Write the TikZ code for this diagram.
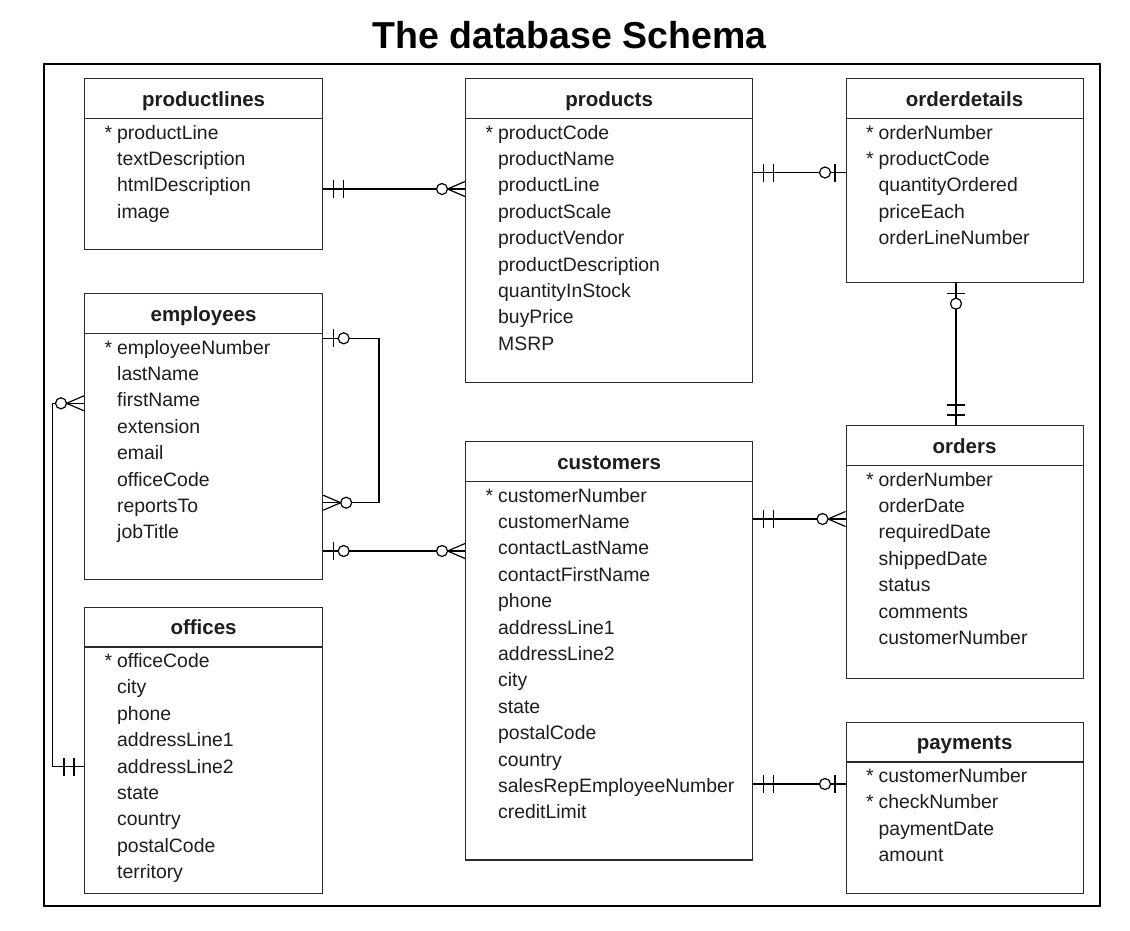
\documentclass[tikz,border=0pt]{standalone}
\usepackage{fontspec}
\setmainfont{Liberation Sans}
\usetikzlibrary{calc}
\definecolor{boxline}{HTML}{2A2A2A}
\definecolor{txt}{HTML}{1C1C26}
\newcommand\keyf{\llap{*\hspace{5pt}}}
\tikzset{
  tbl/.style={draw=boxline, line width=1.2pt, inner sep=0pt, fill=white},
  tbl line/.style={draw=boxline, line width=1.2pt},
  hdr/.style={font=\bfseries\fontsize{20.5}{24}\selectfont, anchor=base, inner sep=0pt, text=txt},
  fld/.style={font=\fontsize{19.4}{24}\selectfont, anchor=base west, inner sep=0pt, text=txt},
  conn/.style={draw=black, line width=1.2pt},
  frame/.style={draw=black, line width=2pt},
  pics/one/.style={code={\draw[conn] (-10,-9) -- (-10,9) (-20,-9) -- (-20,9);}},
  pics/zeroone/.style={code={\draw[conn] (-10.5,-9) -- (-10.5,9); \draw[conn, fill=white] (-20.5,0) circle[radius=5.5];}},
  pics/many/.style={code={\draw[conn] (-17.5,0) -- (0,7.5) (-17.5,0) -- (0,-7.5); \draw[conn, fill=white] (-23,0) circle[radius=5.5];}},
}
\newcommand\ertable[7]{%
  \node[tbl, minimum width=#4pt, minimum height=#5pt, anchor=north west] (#1) at (#2,#3) {};
  \draw[tbl line] ([yshift=-40.5pt]#1.north west) -- ([yshift=-40.5pt]#1.north east);
  \node[hdr] (#1-title) at ([yshift=-28pt]#1.north) {#6};
  \foreach \f [count=\i] in {#7}
    \node[fld] (#1-\i) at ([xshift=33pt,yshift={-61pt-(\i-1)*26.4pt}]#1.north west) {\f};
}
\begin{document}
\begin{tikzpicture}[x=1pt, y=-1pt]
\useasboundingbox (0,0) rectangle (1130,930);
\node[font=\bfseries\fontsize{37.5}{40}\selectfont, anchor=base, inner sep=0pt] (ttl) at (569.5,48) {The database Schema};
\node[frame, inner sep=0pt, minimum width=1056pt, minimum height=842pt, anchor=north west] (frm) at (43,63) {};

\ertable{pl}{84}{78}{238}{171}{productlines}{\keyf productLine, textDescription, htmlDescription, image}
\ertable{pr}{465}{78}{287}{303.5}{products}{\keyf productCode, productName, productLine, productScale, productVendor, productDescription, quantityInStock, buyPrice, MSRP}
\ertable{od}{845.5}{78}{237}{204}{orderdetails}{\keyf orderNumber, \keyf productCode, quantityOrdered, priceEach, orderLineNumber}
\ertable{em}{84}{293}{238}{285.5}{employees}{\keyf employeeNumber, lastName, firstName, extension, email, officeCode, reportsTo, jobTitle}
\ertable{of}{84}{606.5}{238}{286}{offices}{\keyf officeCode, city, phone, addressLine1, addressLine2, state, country, postalCode, territory}
\ertable{cu}{465}{441}{287}{418.3}{customers}{\keyf customerNumber, customerName, contactLastName, contactFirstName, phone, addressLine1, addressLine2, city, state, postalCode, country, salesRepEmployeeNumber, creditLimit}
\ertable{or}{845.5}{425}{237}{253}{orders}{\keyf orderNumber, orderDate, requiredDate, shippedDate, status, comments, customerNumber}
\ertable{pa}{845.5}{721.5}{237}{171.5}{payments}{\keyf customerNumber, \keyf checkNumber, paymentDate, amount}

% connection points
\coordinate (c1a) at ([yshift=-111pt]pl.north east);
\coordinate (c1b) at (pr.west |- c1a);
\coordinate (c2a) at ([yshift=-94.5pt]pr.north east);
\coordinate (c2b) at (od.west |- c2a);
\coordinate (c3a) at ([xshift=110.5pt]od.south west);
\coordinate (c3b) at (c3a |- or.north);
\coordinate (c4a) at ([yshift=-78pt]cu.north east);
\coordinate (c4b) at (or.west |- c4a);
\coordinate (c5a) at ([yshift=-343pt]cu.north east);
\coordinate (c5b) at (pa.west |- c5a);
\coordinate (c6a) at ([yshift=-45.3pt]em.north east);
\coordinate (c6b) at ([yshift=-209.7pt]em.north east);
\coordinate (c7a) at ([yshift=-258pt]em.north east);
\coordinate (c7b) at (cu.west |- c7a);
\coordinate (c8a) at ([yshift=-110.3pt]em.north west);
\coordinate (c8b) at ([yshift=-160.2pt]of.north west);

% connectors
\draw[conn] (c1a) -- (c1b);
\draw[conn] (c2a) -- (c2b);
\draw[conn] (c3a) -- (c3b);
\draw[conn] (c4a) -- (c4b);
\draw[conn] (c5a) -- (c5b);
\draw[conn] (c6a) -- ++(55.7,0) |- (c6b);
\draw[conn] (c7a) -- (c7b);
\draw[conn] (c8b) -- ++(-31.3,0) |- (c8a);

% markers
\pic[rotate=180] at (c1a) {one};
\pic at (c1b) {many};
\pic[rotate=180] at (c2a) {one};
\pic at (c2b) {zeroone};
\pic[rotate=90] at (c3a) {zeroone};
\pic[rotate=-90] at (c3b) {one};
\pic[rotate=180] at (c4a) {one};
\pic at (c4b) {many};
\pic[rotate=180] at (c5a) {one};
\pic at (c5b) {zeroone};
\pic[rotate=180] at (c6a) {zeroone};
\pic[rotate=180] at (c6b) {many};
\pic[rotate=180] at (c7a) {zeroone};
\pic at (c7b) {many};
\pic at (c8a) {many};
\pic at (c8b) {one};
\end{tikzpicture}
\end{document}
